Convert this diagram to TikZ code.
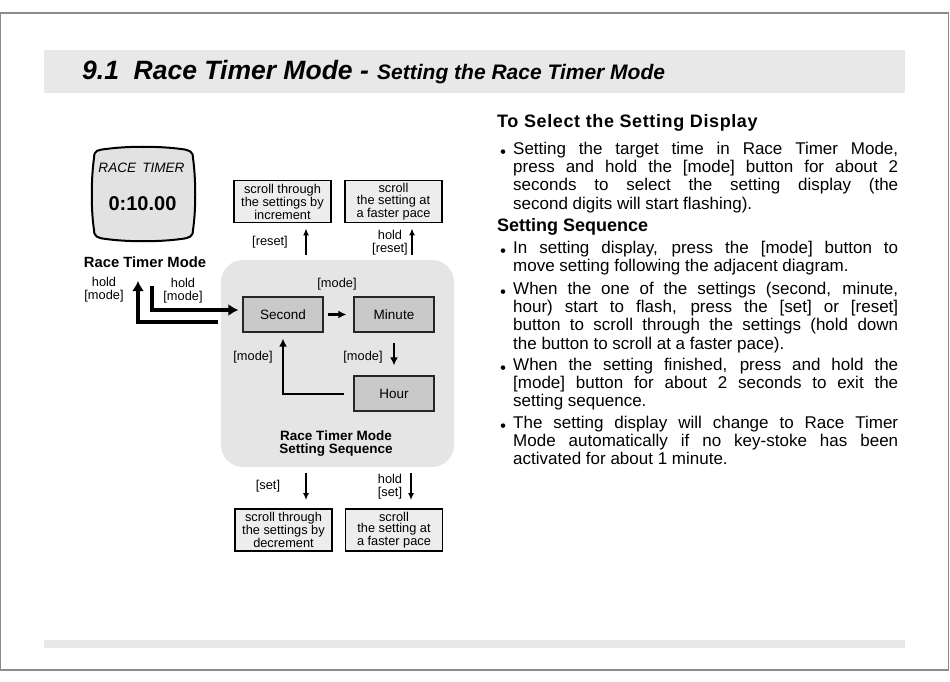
\documentclass[tikz,border=0pt]{standalone}
\usepackage{fontspec}
\setmainfont{Liberation Sans}
\usetikzlibrary{arrows.meta}
\definecolor{bandgray}{HTML}{E8E8E8}
\definecolor{regiongray}{HTML}{E5E5E5}
\definecolor{boxgray}{HTML}{C9C9C9}
\definecolor{scrollgray}{HTML}{EDEDED}
\definecolor{watchgray}{HTML}{E2E2E2}
\definecolor{framegray}{HTML}{8C8C8C}
\newcommand{\fsz}[2]{\fontsize{#1}{#2}\selectfont}
\tolerance=10000
\hyphenpenalty=10000
\tikzset{
  region/.style={fill=regiongray, rounded corners=22pt, minimum width=233pt, minimum height=207pt},
  modebox/.style={draw=black!85, line width=1.3pt, fill=boxgray, minimum width=80pt, minimum height=35pt, font=\fsz{13.5}{16}},
  scrollbox/.style={draw=black, line width=1.8pt, fill=scrollgray, minimum width=97pt, minimum height=42pt, align=center, font=\fsz{12.8}{11.5}},
  lbl/.style={align=center, font=\fsz{12.8}{12.8}},
  thinarrow/.style={line width=1.5pt, -{Latex[length=7pt,width=6pt]}},
  midarrow/.style={line width=2.3pt, -{Latex[length=8pt,width=8pt]}},
  fatarrow/.style={line width=4pt, -{Latex[length=10pt,width=12pt]}},
  para/.style={anchor=north west, text width=385pt, align=justify, font=\fsz{17}{18.3}},
  head/.style={anchor=base west, font=\fsz{18}{18.3}\bfseries},
  bul/.style={circle, fill, minimum size=4.6pt},
}
\begin{document}
\begin{tikzpicture}[x=1pt,y=-1pt,every node/.style={inner sep=0pt}]
\useasboundingbox (0,0) rectangle (950,682);
\draw[framegray, line width=1.3pt] (0.7,13) rectangle (948.3,670);
\fill[bandgray] (44,50) rectangle (905,93);
\fill[bandgray] (44,640) rectangle (905,648);

    \node[anchor=base west, font=\fsz{26.5}{26}\bfseries\itshape] (v1) at (82,80) {9.1\ \ Race Timer Mode -};
    \node[anchor=base west, font=\fsz{21}{21}\bfseries\itshape] (v2) at (377,80) {Setting the Race Timer Mode};

    \draw[line width=2pt, fill=watchgray] (94,158) .. controls (94,150) and (98,150) .. (106,149)
      .. controls (128,146) and (159,146) .. (181,149)
      .. controls (189,150) and (193,151) .. (193,158)
      .. controls (196,180) and (196,210) .. (193,230)
      .. controls (193,237) and (189,238) .. (181,239)
      .. controls (159,242) and (128,242) .. (106,239)
      .. controls (98,238) and (94,237) .. (94,230)
      .. controls (91,210) and (91,180) .. cycle;
    \node[font=\fsz{13.6}{16}\itshape] (v3) at (141.5,168) {RACE\,\ TIMER};
    \node[font=\fsz{20}{22}\bfseries] (v4) at (142.5,204) {0:10.00};
    \node[font=\fsz{14.8}{16}\bfseries] (v5) at (145,262) {Race Timer Mode};

    \node[region] (v6) at (337.5,363.5) {};
    \node[modebox] (v7) at (283,314.5) {Second};
    \node[modebox] (v8) at (394,314.5) {Minute};
    \node[modebox] (v9) at (394,393.5) {Hour};
    \node[align=center, font=\fsz{13.5}{12.8}\bfseries] (v10) at (336,443.5) {Race Timer Mode\\Setting Sequence};

    \node[scrollbox] (v11) at (282.5,201.5) {scroll through\\the settings by\\increment};
    \node[scrollbox] (v12) at (393.5,201.5) {scroll\\the setting at\\a faster pace};
    \node[scrollbox] (v13) at (283.5,530) {scroll through\\the settings by\\decrement};
    \node[scrollbox] (v14) at (394,530) {scroll\\the setting at\\a faster pace};

    \node[lbl] (v15) at (104,290) {hold\\{[mode]}};
    \node[lbl] (v16) at (183,291) {hold\\{[mode]}};
    \node[lbl] (v17) at (270,242) {[reset]};
    \node[lbl] (v18) at (390,243) {hold\\{[reset]}};
    \node[lbl] (v19) at (337,284) {[mode]};
    \node[lbl] (v20) at (363,357) {[mode]};
    \node[lbl] (v21) at (253,357) {[mode]};
    \node[lbl] (v22) at (268,486) {[set]};
    \node[lbl] (v23) at (390,487) {hold\\{[set]}};

    \coordinate (c1) at (218,322);
    \coordinate (c2) at (138,281);
    \coordinate (c3) at (152,286);
    \coordinate (c4) at (306,255);
    \coordinate (c5) at (412,255);
    \coordinate (c6) at (306,473);
    \coordinate (c7) at (411,473);

    \draw[fatarrow]  (c1) -| (c2);
    \draw[fatarrow, shorten >=4pt]  (c3) |- ([yshift=4.5pt]v7.west);
    \draw[midarrow, shorten <=4pt, shorten >=7pt]  (v7) edge (v8);
    \draw[midarrow, shorten <=10pt, shorten >=10pt]  (v8) edge (v9);
    \draw[midarrow, line width=2pt, shorten <=9pt, shorten >=6pt]  (v9.west) -| (v7.south);
    \draw[thinarrow, shorten >=5pt]  (c4) -- (c4 |- v11.south);
    \draw[thinarrow, shorten >=5pt]  (c5) -- (c5 |- v12.south);
    \draw[thinarrow, shorten >=8pt]  (c6) -- (c6 |- v13.north);
    \draw[thinarrow, shorten >=8pt]  (c7) -- (c7 |- v14.north);

    \node[head] (v24) at (497,128) {\addfontfeature{LetterSpace=3.4}To Select the Setting Display};
    \node[para] (v25) at (513,141.6) {Setting the target time in Race Timer Mode,\linebreak press and hold the [mode] button for about 2\linebreak seconds to select the setting display (the\linebreak second digits will start flashing).};
    \node[head] (v26) at (497,231) {Setting Sequence};
    \node[para] (v27) at (513,240.6) {In setting display, press the [mode] button to\linebreak move setting following the adjacent diagram.};
    \node[para] (v28) at (513,281.6) {When the one of the settings (second, minute,\linebreak hour) start to flash, press the [set] or [reset]\linebreak button to scroll through the settings (hold down\linebreak the button to scroll at a faster pace).};
    \node[para] (v29) at (513,357.6) {When the setting finished, press and hold the\linebreak{}[mode] button for about 2 seconds to exit the\linebreak setting sequence.};
    \node[para] (v30) at (513,415.6) {The setting display will change to Race Timer\linebreak Mode automatically if no key-stoke has been\linebreak activated for about 1 minute.};
    \node[bul] at ([shift={(-10,10)}]v25.north west) {};
    \node[bul] at ([shift={(-10,10)}]v27.north west) {};
    \node[bul] at ([shift={(-10,10)}]v28.north west) {};
    \node[bul] at ([shift={(-10,10)}]v29.north west) {};
    \node[bul] at ([shift={(-10,10)}]v30.north west) {};
\end{tikzpicture}
\end{document}
